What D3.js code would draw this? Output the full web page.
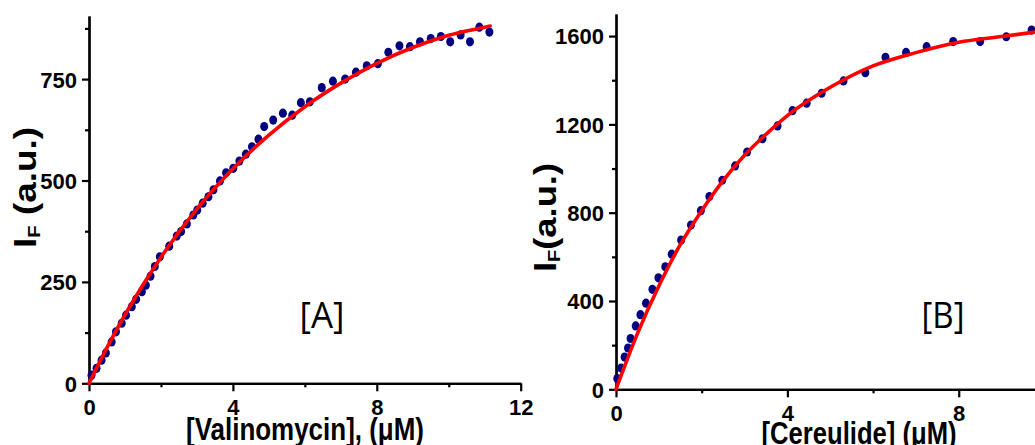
<!DOCTYPE html>
<html>
<head>
<meta charset="utf-8">
<script src="https://cdn.jsdelivr.net/npm/d3@7"></script>
<style>
  html, body { margin: 0; padding: 0; background: #fff; }
  svg { display: block; }
  .tick text { font-family: "Liberation Sans", Arial, sans-serif; font-weight: bold; font-size: 22px; fill: #000; }
</style>
</head>
<body>
<svg id="chart" width="1035" height="445"></svg>
<script>
// Panel A: fluorescence vs valinomycin concentration
const valinomycinUM = [0.07,0.21,0.35,0.47,0.63,0.75,0.91,1.03,1.19,1.31,1.47,1.58,1.71,1.83,1.97,2.23,2.44,2.56,2.72,2.90,3.01,3.16,3.32,3.46,3.64,3.81,4.01,4.18,4.36,4.53,4.71,4.87,5.12,5.39,5.65,5.89,6.14,6.47,6.78,7.12,7.42,7.72,8.03,8.32,8.63,8.92,9.20,9.50,9.78,10.04,10.33,10.59,10.85,11.13];
const valinomycinIF = [20,37,57,75,102,127,148,168,189,207,226,242,264,288,312,338,363,374,393,415,427,444,460,477,499,519,530,548,565,583,602,633,649,666,661,692,694,729,745,750,767,783,788,816,832,830,842,850,855,842,859,842,878,866];
// fitted saturation curve, panel A
const valinomycinFitUM = [0,0.5,1,2,3,4,5,6,7,8,9,10,11,11.15];
const valinomycinFitIF = [0,88,169,311,430,529,612,682,740,789,828,858,878,881];

// Panel B: fluorescence vs cereulide concentration
const cereulideUM = [0.03,0.12,0.20,0.28,0.34,0.46,0.57,0.70,0.85,0.99,1.15,1.30,1.52,1.75,1.98,2.18,2.48,2.78,3.06,3.42,3.77,4.12,4.45,4.80,5.31,5.82,6.29,6.77,7.25,7.87,8.50,9.11,9.70];
const cereulideIF = [49,96,146,187,230,287,338,390,453,505,555,612,676,744,809,873,947,1012,1075,1135,1193,1262,1296,1341,1397,1434,1504,1526,1552,1575,1575,1597,1627];
// fitted saturation curve, panel B
const cereulideFitUM = [0,0.5,1,1.5,2,2.5,3,3.5,4,5,6,7,8,9,9.78];
const cereulideFitIF = [0,252,468,655,809,945,1060,1155,1240,1368,1465,1525,1572,1598,1618];

// tick values
const valXMajor = [0,4,8,12], valXMinor = [2,6,10];
const valYMajor = [0,250,500,750], valYMinor = [125,375,625,875];
const cerXMajor = [0,4,8], cerXMinor = [2,6];
const cerYMajor = [0,400,800,1200,1600], cerYMinor = [200,600,1000,1400];

const svg = d3.select("#chart");

function drawPanel(p) {
  const g = svg.append("g");
  const x = d3.scaleLinear().domain(p.xDomain).range(p.xRange);
  const y = d3.scaleLinear().domain(p.yDomain).range(p.yRange);
  const x0 = p.xRange[0], y0 = p.yRange[0];

  // minor ticks
  g.append("g").attr("transform", `translate(0,${y0})`)
    .call(d3.axisBottom(x).tickValues(p.xMinor).tickSize(4).tickSizeOuter(0).tickFormat(""));
  g.append("g").attr("transform", `translate(${x0},0)`)
    .call(d3.axisLeft(y).tickValues(p.yMinor).tickSize(4).tickSizeOuter(0).tickFormat(""));

  // major ticks with labels
  const xa = g.append("g").attr("transform", `translate(0,${y0})`)
    .call(d3.axisBottom(x).tickValues(p.xMajor).tickSize(8).tickSizeOuter(0).tickFormat(d3.format("d")));
  xa.selectAll(".tick text").attr("y", 32).attr("dy", null);
  const ya = g.append("g").attr("transform", `translate(${x0},0)`)
    .call(d3.axisLeft(y).tickValues(p.yMajor).tickSize(7).tickSizeOuter(0).tickFormat(d3.format("d")));
  ya.selectAll(".tick text").attr("x", -12).attr("dy", "0.36em");

  g.selectAll(".domain, .tick line").attr("stroke", "#000").attr("stroke-width", 2.2);

  // data points
  g.append("g").selectAll("ellipse")
    .data(p.px.map((v, i) => [v, p.py[i]]))
    .join("ellipse")
    .attr("cx", d => x(d[0])).attr("cy", d => y(d[1]))
    .attr("rx", 4).attr("ry", 4.6)
    .attr("fill", "#000080");

  // fit line
  const line = d3.line().x(d => x(d[0])).y(d => y(d[1])).curve(d3.curveMonotoneX);
  g.append("path")
    .datum(p.fx.map((v, i) => [v, p.fy[i]]))
    .attr("d", line)
    .attr("fill", "none").attr("stroke", "#ff0000").attr("stroke-width", 3.6)
    .attr("stroke-linecap", "round");

  // x title
  g.append("text")
    .attr("x", p.xTitle.x).attr("y", p.xTitle.y)
    .attr("text-anchor", "middle")
    .attr("textLength", p.xTitle.len).attr("lengthAdjust", "spacingAndGlyphs")
    .style("font-family", '"Liberation Sans", Arial, sans-serif')
    .style("font-weight", "bold").style("font-size", "31px")
    .text(p.xTitle.text);

  // y title with subscript
  const yt = g.append("text")
    .attr("transform", `translate(${p.yTitle.x},${p.yTitle.y}) rotate(-90)`)
    .attr("text-anchor", "middle")
    .attr("textLength", p.yTitle.len).attr("lengthAdjust", "spacingAndGlyphs")
    .style("font-family", '"Liberation Sans", Arial, sans-serif')
    .style("font-weight", "bold").style("font-size", "31px");
  yt.append("tspan").text("I");
  yt.append("tspan").attr("dy", 4).style("font-size", "17px").text("F");
  yt.append("tspan").attr("dy", -4).text(p.yTitle.rest);

  // panel tag
  g.append("text")
    .attr("x", p.tag.x).attr("y", p.tag.y)
    .attr("text-anchor", "middle")
    .attr("textLength", p.tag.len).attr("lengthAdjust", "spacingAndGlyphs")
    .style("font-family", '"Open Sans", "Noto Sans", sans-serif')
    .style("font-size", "36px")
    .text(p.tag.text);
}

drawPanel({
  xDomain: [0, 12], xRange: [89, 520.7],
  yDomain: [0, 905.6], yRange: [383.3, 16],
  xMajor: valXMajor, xMinor: valXMinor, yMajor: valYMajor, yMinor: valYMinor,
  px: valinomycinUM, py: valinomycinIF, fx: valinomycinFitUM, fy: valinomycinFitIF,
  xTitle: { text: "[Valinomycin], (\u03BCM)", x: 305, y: 440, len: 238 },
  yTitle: { rest: " (a.u.)", x: 36, y: 187.5, len: 121 },
  tag: { text: "[A]", x: 322, y: 328, len: 45 }
});

drawPanel({
  xDomain: [0, 9.78], xRange: [616, 1035],
  yDomain: [0, 1700], yRange: [389.3, 14],
  xMajor: cerXMajor, xMinor: cerXMinor, yMajor: cerYMajor, yMinor: cerYMinor,
  px: cereulideUM, py: cereulideIF, fx: cereulideFitUM, fy: cereulideFitIF,
  xTitle: { text: "[Cereulide] (\u03BCM)", x: 859, y: 444, len: 195 },
  yTitle: { rest: "(a.u.)", x: 556, y: 217.5, len: 109 },
  tag: { text: "[B]", x: 943, y: 328, len: 43 }
});
</script>
</body>
</html>
